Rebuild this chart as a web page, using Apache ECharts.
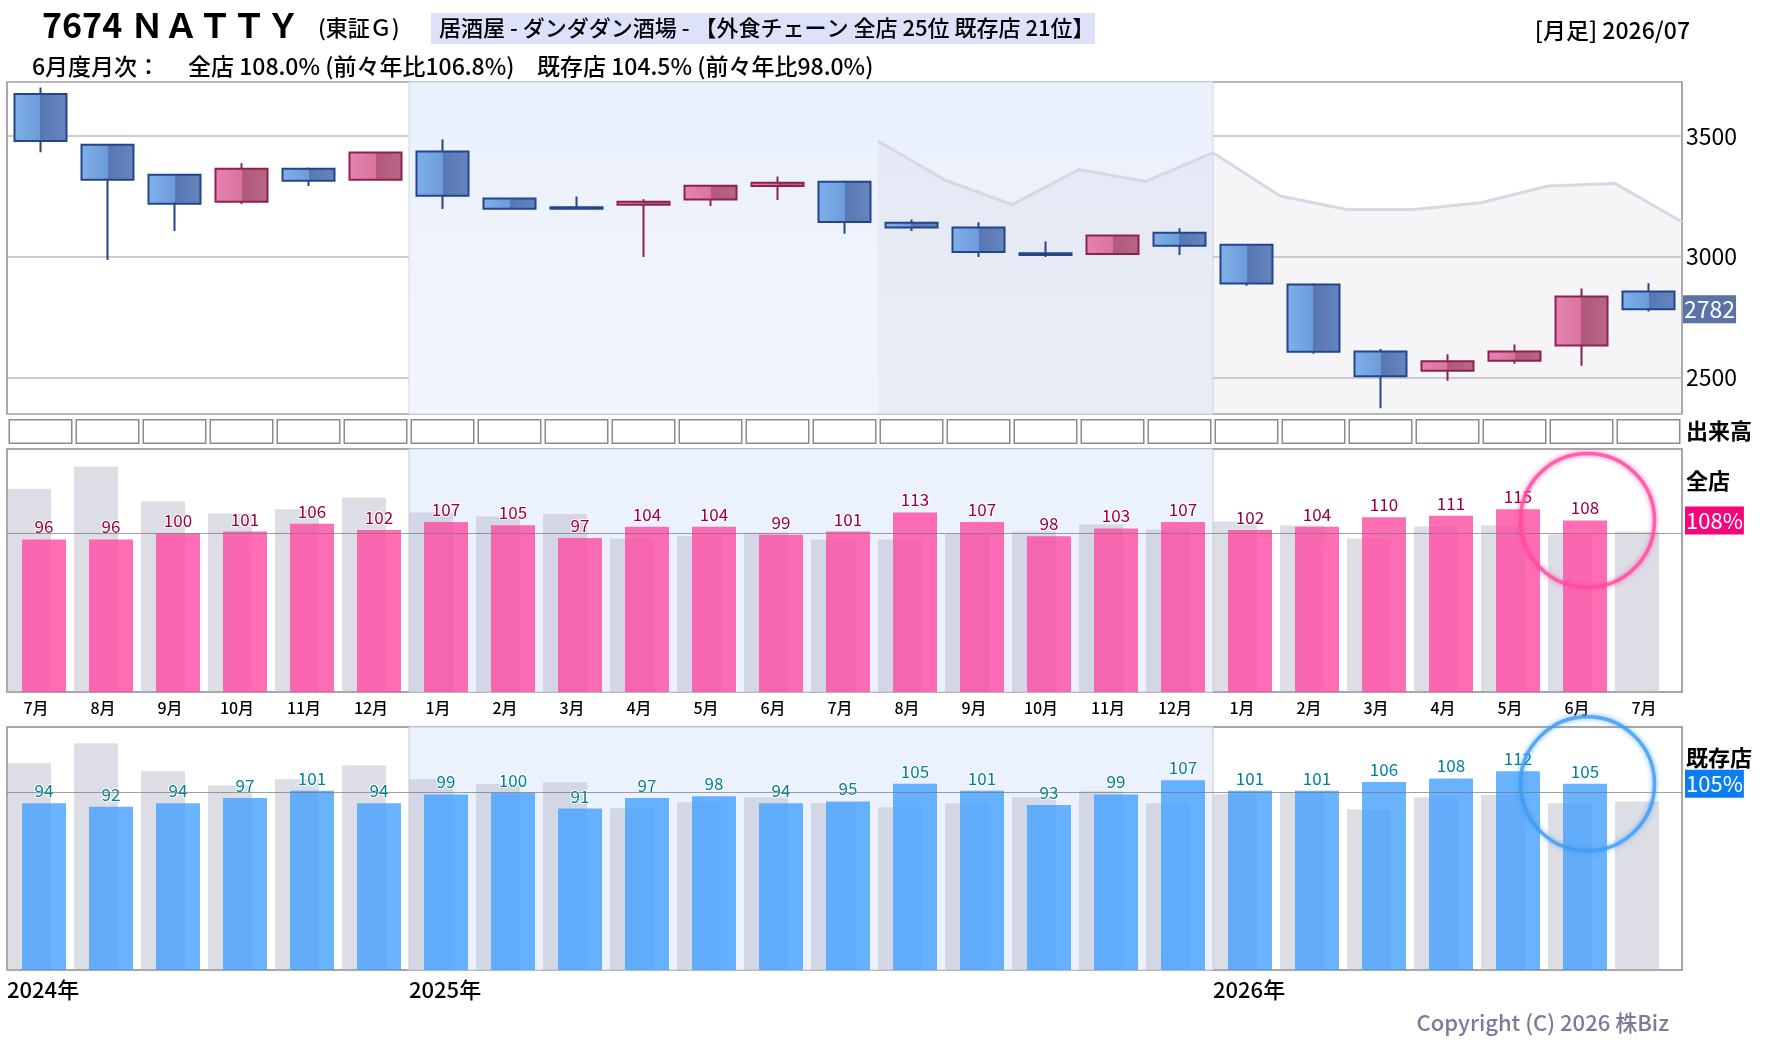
<!DOCTYPE html>
<html>
<head>
<meta charset="utf-8">
<script src="https://cdn.jsdelivr.net/npm/echarts@6/dist/echarts.min.js"></script>
<style>
  html, body { margin: 0; padding: 0; background: #fff; }
  #main { width: 1780px; height: 1054px; }
</style>
</head>
<body>
<div id="main"></div>
<script>
// 月足 2024/07 - 2026/07
const periods = ['2024/07','2024/08','2024/09','2024/10','2024/11','2024/12',
  '2025/01','2025/02','2025/03','2025/04','2025/05','2025/06','2025/07','2025/08','2025/09','2025/10','2025/11','2025/12',
  '2026/01','2026/02','2026/03','2026/04','2026/05','2026/06','2026/07'];
const monthLabels = ['7月','8月','9月','10月','11月','12月','1月','2月','3月','4月','5月','6月',
  '7月','8月','9月','10月','11月','12月','1月','2月','3月','4月','5月','6月','7月'];
const yearTicks = ['2024年', '2025年', '2026年'];
const yearStarts = ['2024/07', '2025/01', '2026/01'];

// 株価 (始値, 終値, 安値, 高値)
const opens  = [3673,3463,3339,3227,3364,3318,3435,3240,3204,3215,3236,3292,3310,3140,3120,3014,3011,3099,3049,2884,2607,2527,2569,2632,2855];
const closes = [3479,3318,3219,3364,3314,3431,3252,3198,3198,3227,3293,3306,3143,3120,3019,3007,3087,3045,2888,2606,2504,2566,2607,2835,2782];
const lows   = [3432,2986,3106,3218,3292,3314,3197,3196,3197,2998,3209,3234,3094,3106,2998,2998,3010,3007,2879,2598,2372,2486,2556,2548,2772];
const highs  = [3700,3465,3340,3386,3369,3435,3485,3242,3249,3237,3295,3332,3315,3154,3142,3062,3088,3117,3050,2890,2617,2595,2636,2868,2890];

// 灰色の参考線 (2025/08 の左端から右端まで、月の境目ごと)
const refLineStart = '2025/08';
const refLine = [3478,3317,3215,3361,3311,3430,3251,3195,3195,3223,3292,3303,3143];

// 出来高欄 (空の枠)
const volumeCells = [1,1,1,1,1,1,1,1,1,1,1,1,1,1,1,1,1,1,1,1,1,1,1,1,1];

// 月次 前年比 (%)
const allStore     = [96,96,100,101,106,102,107,105,97,104,104,99,101,113,107,98,103,107,102,104,110,111,115,108,null];
const allStorePrev = [128,142,120,112.5,115,122.5,113,110.5,112,96.6,98,100.4,96,96,100,101,105.5,102.3,107.4,104.9,96.6,104.2,104.9,99.2,100.9];
const existing     = [94,92,94,97,101,94,99,100,91,97,98,94,95,105,101,93,99,107,101,101,106,108,112,105,null];
const existingPrev = [116.6,127.9,112.1,104.2,107.6,115.5,107.6,104.8,105.9,91.2,94.6,97.4,94,91.7,94,97.4,100.8,94,99.1,100.2,90.6,97.4,98.6,94,95];

const header = {
  code: '7674 ＮＡＴＴＹ', market: '(東証Ｇ)',
  tag: '居酒屋 - ダンダダン酒場 - 【外食チェーン 全店 25位 既存店 21位】',
  period: '[月足] 2026/07',
  monthly: '6月度月次：', all: '全店 108.0% (前々年比106.8%)', exist: '既存店 104.5% (前々年比98.0%)'
};

const FONT = "'Noto Sans CJK JP', 'Noto Sans', sans-serif";
const lastClose = closes[closes.length - 1];
const latest = allStore.filter(v => v != null).length - 1;
const band2025 = [[{ xAxis: '2025/01' }, { xAxis: '2025/12' }]];
const refStartIdx = periods.indexOf(refLineStart);
const yearIdx = yearStarts.map(p => periods.indexOf(p));
const NOLINE = { color: 'rgba(0,0,0,0)', width: 0 };

const G = echarts.graphic;
const upColor = new G.LinearGradient(0, 0, 1, 0, [
  { offset: 0, color: '#e783b1' }, { offset: 0.5, color: '#d9749f' },
  { offset: 0.5, color: '#b0597b' }, { offset: 1, color: '#ba6686' }]);
const downColor = new G.LinearGradient(0, 0, 1, 0, [
  { offset: 0, color: '#80b1ea' }, { offset: 0.5, color: '#6c9bda' },
  { offset: 0.5, color: '#5877b2' }, { offset: 1, color: '#6686c0' }]);

const gridBox = { left: 7, width: 1675, show: true, backgroundColor: '#fff', borderColor: '#8a8a8a', borderWidth: 1.5 };
const hiddenCat = (gi) => ({
  type: 'category', gridIndex: gi, data: periods, boundaryGap: true,
  axisLine: { show: false }, axisTick: { show: false, interval: 0 }, axisLabel: { show: false }, splitLine: { show: false }
});
const hiddenVal = (gi, min, max) => ({
  type: 'value', gridIndex: gi, min: min, max: max,
  axisLine: { show: false }, axisTick: { show: false }, axisLabel: { show: false }, splitLine: { show: false }
});

function barPanel(xi, yi, prev, cur, color, labelColor, tagColor, circleColor) {
  return [
    {
      type: 'bar', xAxisIndex: xi, yAxisIndex: yi, data: prev, barWidth: 44, barGap: '-66%',
      itemStyle: { color: 'rgba(180,180,200,0.45)' }, z: 2,
      markArea: { silent: true, z: 1, itemStyle: { color: '#ecf2fd', borderColor: '#c9cdd8', borderWidth: 1 }, data: band2025 }
    },
    {
      type: 'bar', xAxisIndex: xi, yAxisIndex: yi, data: cur, barWidth: 44, barGap: '-66%',
      itemStyle: { color: color }, z: 3,
      label: {
        show: true, position: 'top', distance: 4, fontFamily: FONT, fontSize: 17,
        color: labelColor, textBorderColor: '#fff', textBorderWidth: 2
      },
      markLine: {
        silent: true, symbol: ['none', 'none'], z: 4,
        data: [
          { yAxis: 100, lineStyle: { color: 'rgba(120,120,120,0.7)', width: 1.2, type: 'solid' }, label: { show: false } },
          {
            yAxis: cur[latest], lineStyle: NOLINE,
            label: {
              show: true, position: 'end', distance: 3, formatter: cur[latest] + '%',
              fontFamily: FONT, fontSize: 22, color: '#fff', backgroundColor: tagColor, padding: [4, 1, 2, 1]
            }
          }
        ]
      }
    },
    { type: 'bar', xAxisIndex: xi, yAxisIndex: yi, data: [], barWidth: 37, barGap: '-66%' },
    {
      type: 'scatter', xAxisIndex: xi, yAxisIndex: yi, z: 6, silent: true,
      data: [[periods[latest], cur[latest]]], symbol: 'circle', symbolSize: 134, symbolOffset: [6, 0],
      itemStyle: { color: 'rgba(0,0,0,0)', borderColor: circleColor, borderWidth: 3.5, shadowBlur: 5, shadowColor: circleColor }
    }
  ];
}

const chart = echarts.init(document.getElementById('main'));
chart.setOption({
  animation: false,
  textStyle: { fontFamily: FONT },
  grid: [
    Object.assign({ top: 82, height: 332 }, gridBox),
    { left: 7, width: 1675, top: 419, height: 25, show: false },
    Object.assign({ top: 449, height: 243 }, gridBox),
    Object.assign({ top: 727, height: 243 }, gridBox)
  ],
  xAxis: [
    hiddenCat(0),
    Object.assign(hiddenVal(0, 0, 25), { position: 'bottom' }),
    hiddenCat(1),
    Object.assign(hiddenCat(2), {
      axisLabel: {
        show: true, interval: 0, margin: 8, fontSize: 16, fontWeight: 500, color: '#000',
        padding: [0, 9, 0, 0], formatter: (v, i) => monthLabels[i]
      }
    }),
    hiddenCat(3),
    {
      type: 'value', gridIndex: 3, position: 'bottom', min: 0, max: 25, interval: 1,
      axisLine: { show: false }, axisTick: { show: false }, splitLine: { show: false },
      axisLabel: {
        show: true, margin: 9, align: 'left', fontSize: 22, fontWeight: 500, color: '#000',
        formatter: v => { const k = yearIdx.indexOf(v); return k >= 0 ? yearTicks[k] : ''; }
      }
    }
  ],
  yAxis: [
    {
      type: 'value', gridIndex: 0, position: 'right', min: 2348, max: 3723, splitNumber: 3,
      axisLine: { show: false }, axisTick: { show: false },
      splitLine: { lineStyle: { color: '#bdbdbd', width: 1.5 } },
      axisLabel: { margin: 4, fontSize: 23, color: '#000', showMinLabel: false, showMaxLabel: false, formatter: v => String(v) }
    },
    hiddenVal(1, 0, 1),
    hiddenVal(2, 0, 153),
    hiddenVal(3, 0, 137)
  ],
  series: [
    {
      type: 'bar', xAxisIndex: 0, yAxisIndex: 0, data: [],
      markArea: {
        silent: true, z: 1,
        itemStyle: {
          color: new G.LinearGradient(0, 0, 0, 1, [{ offset: 0, color: '#eaf0fc' }, { offset: 1, color: '#f1f5fd' }]),
          borderColor: '#d3d7e2', borderWidth: 1
        },
        data: band2025
      }
    },
    {
      type: 'line', xAxisIndex: 1, yAxisIndex: 0, z: 2, silent: true, symbol: 'none',
      data: refLine.map((v, i) => [refStartIdx + i, v]),
      lineStyle: { color: '#d8d8e4', width: 3 },
      areaStyle: { color: 'rgba(200,200,216,0.25)', origin: 'start' }
    },
    {
      type: 'candlestick', xAxisIndex: 0, yAxisIndex: 0, z: 3, barWidth: 52,
      data: periods.map((p, i) => [opens[i], closes[i], lows[i], highs[i]]),
      itemStyle: { color: upColor, color0: downColor, borderColor: '#8c2250', borderColor0: '#23458a', borderWidth: 2 },
      markLine: {
        silent: true, symbol: ['none', 'none'],
        data: [{ yAxis: lastClose }],
        lineStyle: NOLINE,
        label: {
          show: true, position: 'end', distance: 1, formatter: String(lastClose),
          fontFamily: FONT, fontSize: 23, color: '#fff', backgroundColor: '#5a72a8', padding: [3, 1, 2, 1]
        }
      }
    },
    {
      type: 'bar', xAxisIndex: 2, yAxisIndex: 1, data: volumeCells, barCategoryGap: '4.5%', silent: true,
      itemStyle: { color: '#fff', borderColor: '#8a8a8a', borderWidth: 1.5 }
    }
  ].concat(
    barPanel(3, 2, allStorePrev, allStore, 'rgba(255,74,161,0.8)', '#9a0040', '#f5057a', '#ff4aa0'),
    barPanel(4, 3, existingPrev, existing, 'rgba(68,160,255,0.8)', '#00809a', '#0a7ef0', '#3f9cf2')
  ),
  graphic: [
    { type: 'text', x: 42, y: 25, style: { text: header.code, font: `bold 34px ${FONT}`, fill: '#000', verticalAlign: 'middle' } },
    { type: 'text', x: 318, y: 28, style: { text: header.market, font: `500 22px ${FONT}`, fill: '#000', verticalAlign: 'middle' } },
    { type: 'rect', x: 431, y: 13, shape: { width: 664, height: 31 }, style: { fill: '#dde2fa' } },
    { type: 'text', x: 439, y: 28, style: { text: header.tag, font: `500 22px ${FONT}`, fill: '#000', verticalAlign: 'middle' } },
    { type: 'text', x: 1690, y: 30, style: { text: header.period, font: `500 23px ${FONT}`, fill: '#000', align: 'right', verticalAlign: 'middle' } },
    { type: 'text', x: 32, y: 66, style: { text: header.monthly, font: `500 23px ${FONT}`, fill: '#000', verticalAlign: 'middle' } },
    { type: 'text', x: 188, y: 66, style: { text: header.all, font: `500 23px ${FONT}`, fill: '#000', verticalAlign: 'middle' } },
    { type: 'text', x: 537, y: 66, style: { text: header.exist, font: `500 23px ${FONT}`, fill: '#000', verticalAlign: 'middle' } },
    { type: 'text', x: 1686, y: 431, style: { text: '出来高', font: `bold 22px ${FONT}`, fill: '#000', verticalAlign: 'middle' } },
    { type: 'text', x: 1686, y: 481, style: { text: '全店', font: `bold 22px ${FONT}`, fill: '#000', verticalAlign: 'middle' } },
    { type: 'text', x: 1686, y: 758, style: { text: '既存店', font: `bold 22px ${FONT}`, fill: '#000', verticalAlign: 'middle' } },
    { type: 'text', x: 1669, y: 1023, style: { text: 'Copyright (C) 2026 株Biz', font: `500 22px ${FONT}`, fill: '#7a7a99', align: 'right', verticalAlign: 'middle' } }
  ]
});
</script>
</body>
</html>
